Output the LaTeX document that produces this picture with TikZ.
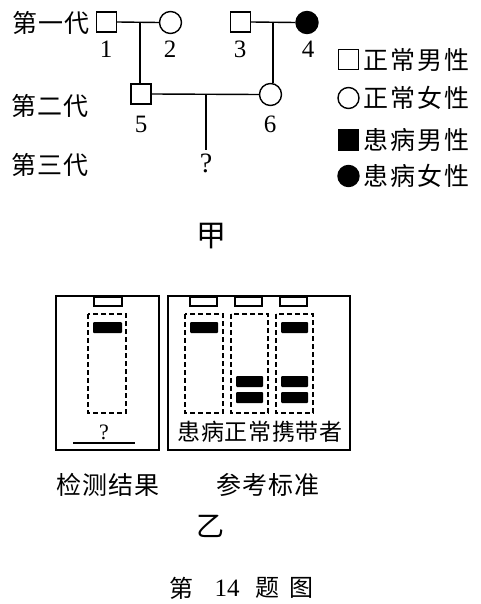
\documentclass[tikz,border=0pt]{standalone}
\usepackage{fontspec}
\setmainfont{Liberation Serif}
\newfontfamily\cjk{Noto Sans CJK SC}
\newfontfamily\cjkw[LetterSpace=8]{Noto Sans CJK SC}
\newfontfamily\cjkn[LetterSpace=3]{Noto Sans CJK SC}
\begin{document}
\begin{tikzpicture}[x=1pt,y=-1pt,
  cjkt/.style={inner sep=0pt,font=\cjkn\fontsize{25}{25}\selectfont},
  cjkl/.style={inner sep=0pt,font=\cjkw\fontsize{25}{25}\selectfont},
  cjks/.style={inner sep=0pt,font=\cjkn\fontsize{23}{23}\selectfont},
  num/.style={inner sep=0pt,font=\fontsize{25}{25}\selectfont},
  pline/.style={line width=1.4pt},
  male/.style={draw,line width=1.4pt,rectangle,minimum size=20pt,inner sep=0pt},
  female/.style={draw,line width=1.4pt,circle,minimum size=22pt,inner sep=0pt},
  frame/.style={draw,line width=1.7pt},
  well/.style={draw,line width=1.4pt},
  lane/.style={draw,line width=1.5pt,dash pattern=on 5pt off 3pt},
  band/.style={fill=black,rounded corners=1pt}]
\useasboundingbox (0,0) rectangle (480,604);

% generation labels
\node[cjkt] (g1) at (51,23) {第一代};
\node[cjkt] (g2) at (50,106) {第二代};
\node[cjkt] (g3) at (50,165) {第三代};

% individuals
\node[male] (p1) at (106.5,22) {};
\node[female] (p2) at (170.5,22.5) {};
\node[male] (p3) at (240.5,22) {};
\node[female,fill=black] (p4) at (307,22.5) {};
\node[male] (p5) at (141,94) {};
\node[female] (p6) at (270.5,94.5) {};

\node[num] (l1) at (106,49) {1};
\node[num] (l2) at (170,49) {2};
\node[num] (l3) at (240,49) {3};
\node[num] (l4) at (308,49) {4};
\node[num] (l5) at (141,124) {5};
\node[num] (l6) at (270,124) {6};
\node[num,font=\fontsize{28}{28}\selectfont] (q) at (206,163) {?};

% connectors
\draw[pline] (p1.east) -- (p2.west);
\draw[pline] (p3.east) -- (p4.west);
\draw[pline] (p5.east) -- (p6.west);
\coordinate (j12) at (140,22);
\coordinate (j34) at (273,22);
\coordinate (j56) at (206,94);
\coordinate (qt) at (206,150);
\draw[pline] (j12) -- (j12 |- p5.north);
\draw[pline] (j34) -- (j34 |- p6.north);
\draw[pline] (j56) -- (qt);

% legend
\node[male,minimum size=20pt] (k1) at (348.5,59.5) {};
\node[female,minimum size=21pt] (k2) at (348.5,98) {};
\node[male,fill=black,minimum size=20pt] (k3) at (348.5,140) {};
\node[female,fill=black,minimum size=21pt] (k4) at (348.5,176) {};
\node[cjkl,anchor=west] (t1) at (363,60) {正常男性};
\node[cjkl,anchor=west] (t2) at (363,98) {正常女性};
\node[cjkl,anchor=west] (t3) at (363,140) {患病男性};
\node[cjkl,anchor=west] (t4) at (363,176) {患病女性};

\node[inner sep=0pt,font=\cjk\fontsize{30}{30}\selectfont] (jia) at (211,236) {甲};

% gel left
\draw[frame] (56,296) rectangle (159,450);
\draw[well] (94,297) rectangle (122,306);
\draw[lane] (88,314) rectangle (126,413);
\fill[band] (93,322) rectangle (122,333);
\node[num,font=\fontsize{22}{22}\selectfont] (q2) at (104,432) {?};
\draw[line width=1.3pt] (73,443) -- (135,443);

% gel right
\draw[frame] (168,296) rectangle (350,450);
\draw[well] (190,297) rectangle (217,306);
\draw[well] (235,297) rectangle (262,306);
\draw[well] (280,297) rectangle (307,306);
\draw[lane] (185,314) rectangle (223,413);
\draw[lane] (231,314) rectangle (268,413);
\draw[lane] (276,314) rectangle (313,413);
\fill[band] (190,322) rectangle (218,333);
\fill[band] (236,376) rectangle (263,387);
\fill[band] (236,392) rectangle (263,403);
\fill[band] (281,322) rectangle (308,333);
\fill[band] (281,376) rectangle (308,387);
\fill[band] (281,392) rectangle (308,403);
\node[cjks] (std) at (260,432) {患病正常携带者};

\node[cjkt] (res) at (108,485) {检测结果};
\node[cjkt] (ref) at (268,485) {参考标准};
\node[inner sep=0pt,font=\cjk\fontsize{28}{28}\selectfont] (yi) at (210,526) {乙};
\node[inner sep=0pt,font=\cjk\fontsize{24}{24}\selectfont] (cap1) at (181,588) {第};
\node[num,font=\fontsize{25}{25}\selectfont] (cap2) at (227,588) {14};
\node[inner sep=0pt,font=\cjk\fontsize{24}{24}\selectfont] (cap3) at (267,588) {题};
\node[inner sep=0pt,font=\cjk\fontsize{24}{24}\selectfont] (cap4) at (301,588) {图};
\end{tikzpicture}
\end{document}
